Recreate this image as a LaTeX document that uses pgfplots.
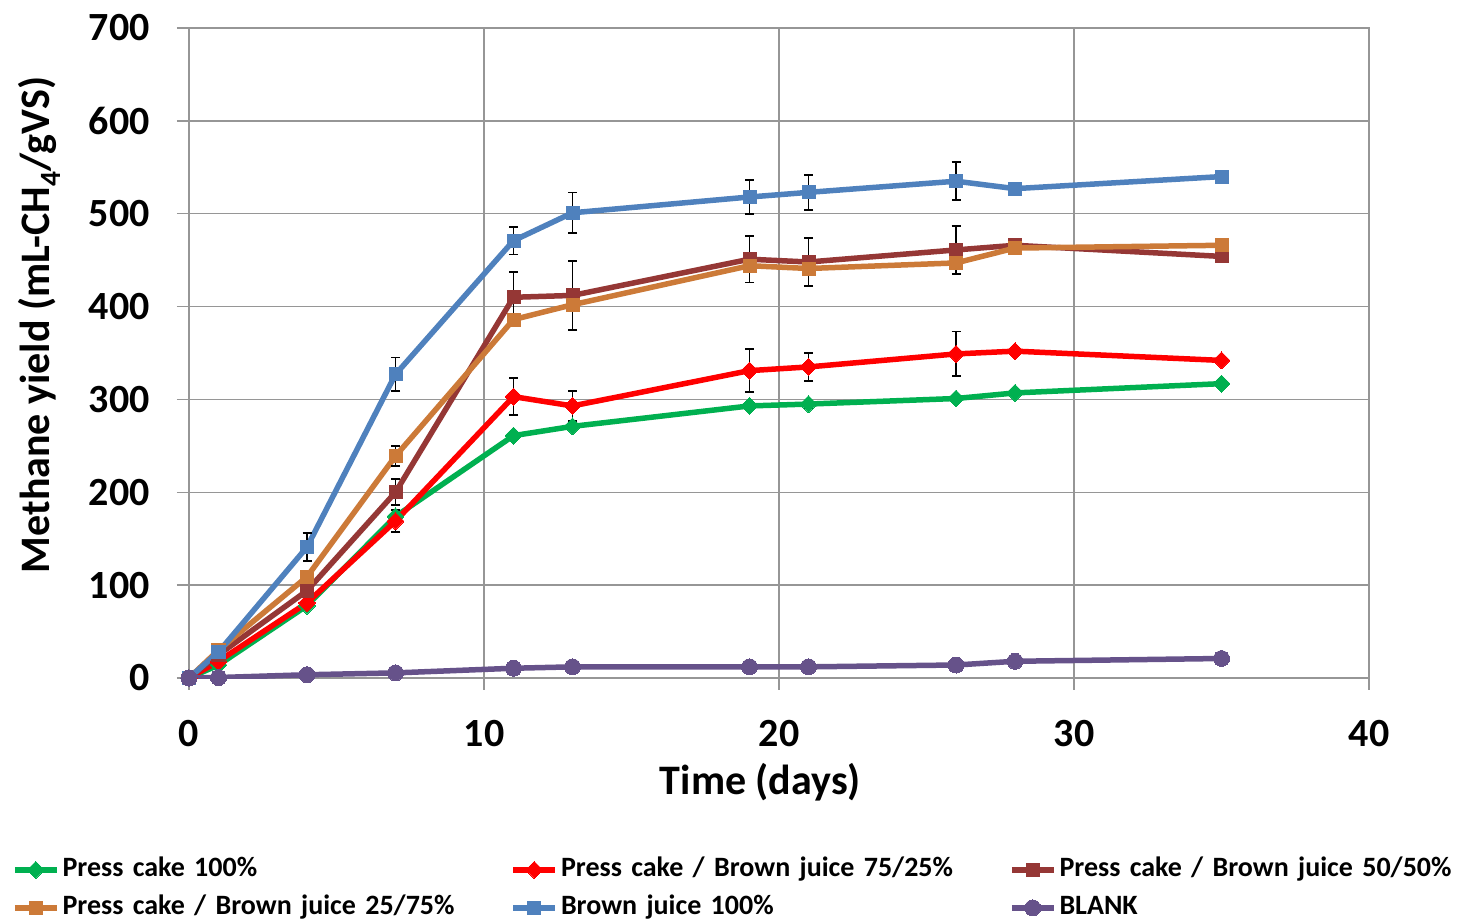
\documentclass[border=0pt]{standalone}
\usepackage{fontspec}
\setmainfont{Carlito}
\usepackage{pgfplots}
\pgfplotsset{compat=1.18}
\definecolor{cgreen}{HTML}{00B050}
\definecolor{cred}{HTML}{FF0000}
\definecolor{cbrown}{HTML}{953735}
\definecolor{corange}{HTML}{CC7A38}
\definecolor{cblue}{HTML}{4F81BD}
\definecolor{cpurple}{HTML}{66528A}
\definecolor{cgrid}{HTML}{969696}
\pgfplotsset{
  eb/.style={forget plot, draw=none, mark=none,
    error bars/.cd, y dir=both, y explicit,
    error bar style={draw=black, line width=1.6pt},
    error mark options={rotate=90, draw=black, line width=1.6pt, mark size=4.5pt}},
  ser/.style={color=#1, line width=5.5pt, line join=round},
}
\begin{document}
\begin{tikzpicture}[x=1pt,y=1pt]
\useasboundingbox (0,0) rectangle (1462,921);
\begin{axis}[
  at={(189pt,243pt)}, anchor=south west,
  scale only axis, width=1180pt, height=650pt,
  xmin=0, xmax=40, ymin=0, ymax=700,
  xtick={0,10,20,30,40}, ytick={0,100,...,700},
  grid=major, major grid style={cgrid, line width=1.3pt},
  axis line style={cgrid, line width=1.3pt},
  tick style={cgrid, line width=1.3pt},
  tick align=outside, major tick length=12pt,
  xtick pos=bottom, ytick pos=left,
  /pgf/number format/assume math mode=true,
  tick label style={font=\fontsize{40}{40}\selectfont\bfseries},
  xticklabel style={anchor=north, inner sep=0pt, yshift=-30pt},
  yticklabel style={anchor=east, inner sep=0pt, xshift=-27pt},
  xlabel={Time (days)},
  ylabel={Methane yield (mL-CH\textsubscript{4}/gVS)},
  label style={font=\fontsize{42}{42}\selectfont\bfseries, inner sep=0pt},
  xlabel style={at={(axis description cs:0.4843,-0.1785)}, anchor=base},
  ylabel style={at={(axis description cs:-0.1178,0.5431)}, anchor=base},
  legend columns=3,
  legend style={at={(axis description cs:-0.150,-0.2752)}, anchor=north west,
    draw=none, fill=none, inner sep=0pt, outer sep=0pt,
    font=\fontsize{28}{28}\selectfont\bfseries,
    row sep=12pt,
    nodes={inner sep=0pt, text height=20pt, text depth=6pt},
    /tikz/every odd column/.append style={column sep=3pt},
    /tikz/every even column/.append style={text width=448pt, align=left}},
  legend image code/.code={\draw[mark repeat=2,mark phase=2,#1] plot coordinates {(0pt,0pt) (21pt,0pt) (42pt,0pt)};},
]
\addplot[ser=cgreen, mark=square*, mark size=6pt, mark options={rotate=45, fill=cgreen, draw=cgreen, line width=0pt}]
 coordinates {(0,0) (1,14) (4,78) (7,174) (11,261) (13,271) (19,293) (21,295) (26,301) (28,307) (35,317)};
\addlegendentry{Press cake 100\%}
\addplot[ser=cred, mark=square*, mark size=6pt, mark options={rotate=45, fill=cred, draw=cred, line width=0pt}]
 coordinates {(0,0) (1,18) (4,81) (7,169) (11,303) (13,293) (19,331) (21,335) (26,349) (28,352) (35,342)};
\addlegendentry{Press cake / Brown juice 75/25\%}
\addplot[ser=cbrown, mark=square*, mark size=6.5pt, mark options={fill=cbrown, draw=cbrown, line width=0pt}]
 coordinates {(0,0) (1,25) (4,94) (7,200) (11,410) (13,412) (19,451) (21,448) (26,461) (28,466) (35,454)};
\addlegendentry{Press cake / Brown juice 50/50\%}
\addplot[ser=corange, mark=square*, mark size=6.5pt, mark options={fill=corange, draw=corange, line width=0pt}]
 coordinates {(0,0) (1,30) (4,109) (7,239) (11,386) (13,402) (19,444) (21,441) (26,447) (28,463) (35,466)};
\addlegendentry{Press cake / Brown juice 25/75\%}
\addplot[ser=cblue, mark=square*, mark size=6.5pt, mark options={fill=cblue, draw=cblue, line width=0pt}]
 coordinates {(0,0) (1,28) (4,141) (7,327) (11,471) (13,501) (19,518) (21,523) (26,535) (28,527) (35,540)};
\addlegendentry{Brown juice 100\%}
\addplot[ser=cpurple, mark=*, mark size=8pt, mark options={fill=cpurple, draw=cpurple, line width=0pt}]
 coordinates {(0,0) (1,0.5) (4,3.5) (7,5.5) (11,10.5) (13,12) (19,12) (21,12) (26,14) (28,18) (35,21)};
\addlegendentry{BLANK}
% error bars
\addplot[eb] coordinates {(21,295) +- (0,4)};
\addplot[eb] coordinates {(7,169) +- (0,12) (11,303) +- (0,20) (13,293) +- (0,16) (19,331) +- (0,23) (21,335) +- (0,15) (26,349) +- (0,24)};
\addplot[eb] coordinates {(7,200) +- (0,14) (11,410) +- (0,27) (13,412) +- (0,37) (19,451) +- (0,25) (21,448) +- (0,26) (26,461) +- (0,26)};
\addplot[eb] coordinates {(7,239) +- (0,11)};
\addplot[eb] coordinates {(4,141) +- (0,15) (7,327) +- (0,18) (11,471) +- (0,15) (13,501) +- (0,22) (19,518) +- (0,18.5) (21,523) +- (0,19) (26,535) +- (0,20.5)};
\end{axis}
\end{tikzpicture}
\end{document}
